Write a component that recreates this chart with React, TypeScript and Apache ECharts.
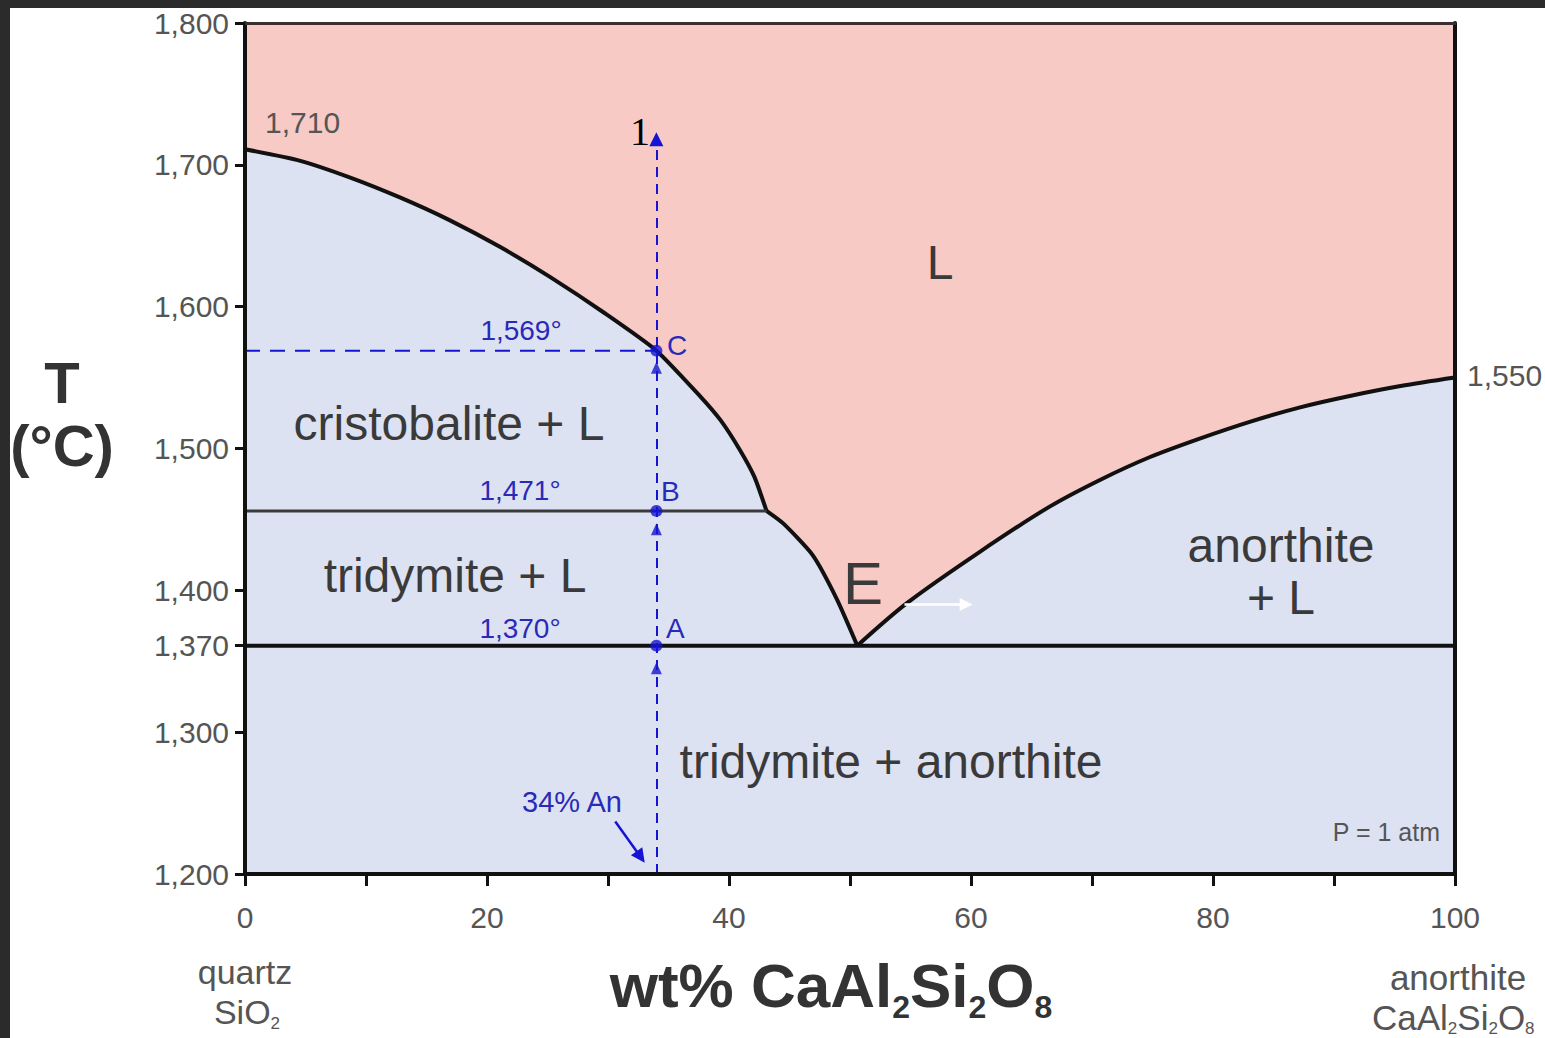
import React, { useEffect, useRef } from "react";
import * as echarts from "echarts";

const FONT = '"Liberation Sans", Arial, Helvetica, sans-serif';
const PINK = "#f7cac5";
const LAVENDER = "#dde2f3";
const BLUE = "#1414d2";
const BLUE_TEXT = "#2a2ab8";
const GRAY_TEXT = "#555555";
const DARK_TEXT = "#3a3a3a";

// axes
const xMin = 0;
const xMax = 100;
const yMin = 1200;
const yMax = 1800;
const yTickValues = [1200, 1300, 1361, 1400, 1500, 1600, 1700, 1800];
const yTickLabels = ["1,200", "1,300", "1,370", "1,400", "1,500", "1,600", "1,700", "1,800"];

// liquidus branches (wt% An, T °C)
const cristobaliteLiquidus = [
  [0, 1711], [4.5, 1703], [8.7, 1691], [12.8, 1677], [16.9, 1661], [21.1, 1642],
  [25.2, 1621], [29.8, 1595], [34, 1569], [37.6, 1537], [39.3, 1520], [40.9, 1499],
  [42.1, 1480], [43.1, 1456],
];
const tridymiteLiquidus = [
  [43.1, 1456], [44.5, 1447], [46.9, 1425], [48.9, 1394], [50.6, 1361],
];
const anorthiteLiquidus = [
  [50.6, 1361], [54.7, 1391], [60.7, 1427], [66.5, 1459], [70.7, 1478], [74.8, 1494],
  [78.9, 1507], [83.1, 1519], [87.2, 1529], [91.3, 1537], [95.5, 1544], [100, 1550],
];

// isotherms
const inversionLine = [[0, 1456], [43.1, 1456]];
const eutecticLine = [[0, 1361], [100, 1361]];

// cooling path of a 34% An melt
const pathPoints = [[34, 1569], [34, 1456], [34, 1361]]; // C, B, A
const pathArrows = [[34, 1557], [34, 1443], [34, 1345]];
const pathLine = [[34, 1200], [34, 1718]];
const cLevelLine = [[0, 1569], [34, 1569]];
const anPointer = [[30.6, 1237], [32.7, 1212]];
const whiteArrow = [[54.5, 1390], [59.6, 1390]];

const liquidusAll = [
  ...cristobaliteLiquidus,
  ...tridymiteLiquidus.slice(1),
  ...anorthiteLiquidus.slice(1),
];

// page coords -> chart coords (chart div sits at 10, 8)
const P = (x: number, y: number) => ({ x: x - 10, y: y - 8 });

function txt(
  text: string,
  px: number,
  py: number,
  size: number,
  fill: string,
  align: string = "center",
  extra: any = {}
) {
  const p = P(px, py);
  return {
    type: "text",
    x: p.x,
    y: p.y,
    z: 50,
    style: {
      text,
      fill,
      fontSize: size,
      fontFamily: FONT,
      align,
      verticalAlign: "middle",
      ...extra,
    },
  };
}

export default function App() {
  const ref = useRef<HTMLDivElement>(null);

  useEffect(() => {
    if (!ref.current) return;
    const chart = echarts.init(ref.current, null, { renderer: "svg" });

    const subRich = (main: number, sub: number, color: string, bold: boolean, subH: number) => ({
      m: {
        fontSize: main,
        fontFamily: FONT,
        fontWeight: bold ? "bold" : "normal",
        fill: color,
        lineHeight: main,
        verticalAlign: "bottom",
      },
      s: {
        fontSize: sub,
        fontFamily: FONT,
        fontWeight: bold ? "bold" : "normal",
        fill: color,
        height: subH,
        lineHeight: subH,
        verticalAlign: "bottom",
      },
    });

    const option: any = {
      animation: false,
      backgroundColor: "#ffffff",
      grid: {
        left: 235,
        top: 10,
        width: 1210,
        height: 856,
        show: true,
        backgroundColor: LAVENDER,
        borderWidth: 0,
      },
      xAxis: [
        {
          type: "value",
          min: xMin,
          max: xMax,
          interval: 10,
          position: "bottom",
          z: 10,
          axisLine: { show: true, onZero: false, lineStyle: { color: "#111", width: 4 } },
          axisTick: { show: true, length: 12, lineStyle: { color: "#111", width: 3 } },
          axisLabel: {
            color: GRAY_TEXT,
            fontSize: 30,
            fontFamily: FONT,
            margin: 28,
            formatter: (v: number) => (v % 20 === 0 ? String(v) : ""),
          },
          splitLine: { show: false },
        },
        {
          type: "value",
          min: xMin,
          max: xMax,
          position: "top",
          z: 10,
          axisLine: { show: true, onZero: false, lineStyle: { color: "#3b2e2e", width: 3 } },
          axisTick: { show: false },
          axisLabel: { show: false },
          splitLine: { show: false },
        },
      ],
      yAxis: [
        {
          type: "value",
          min: yMin,
          max: yMax,
          position: "left",
          z: 10,
          axisLine: { show: true, onZero: false, lineStyle: { color: "#111", width: 4 } },
          axisTick: {
            show: true,
            length: 10,
            customValues: yTickValues,
            lineStyle: { color: "#111", width: 3 },
          },
          axisLabel: {
            customValues: yTickValues,
            color: GRAY_TEXT,
            fontSize: 30,
            fontFamily: FONT,
            margin: 16,
            formatter: (v: number) => {
              const i = yTickValues.indexOf(v);
              return i >= 0 ? yTickLabels[i] : "";
            },
          },
          splitLine: { show: false },
        },
        {
          type: "value",
          min: yMin,
          max: yMax,
          position: "right",
          z: 10,
          axisLine: { show: true, onZero: false, lineStyle: { color: "#111", width: 4 } },
          axisTick: { show: false },
          axisLabel: { show: false },
          splitLine: { show: false },
        },
      ],
      series: [
        {
          name: "L field",
          type: "line",
          data: liquidusAll,
          symbol: "none",
          lineStyle: { width: 0 },
          areaStyle: { color: PINK, opacity: 1, origin: "end" },
          z: 1,
        },
        {
          name: "cristobalite liquidus",
          type: "line",
          data: cristobaliteLiquidus,
          symbol: "none",
          smooth: 0.2,
          lineStyle: { color: "#111", width: 4 },
          z: 3,
        },
        {
          name: "tridymite liquidus",
          type: "line",
          data: tridymiteLiquidus,
          symbol: "none",
          smooth: 0.2,
          lineStyle: { color: "#111", width: 4 },
          z: 3,
        },
        {
          name: "anorthite liquidus",
          type: "line",
          data: anorthiteLiquidus,
          symbol: "none",
          smooth: 0.3,
          lineStyle: { color: "#111", width: 4 },
          z: 3,
        },
        {
          name: "inversion",
          type: "line",
          data: inversionLine,
          symbol: "none",
          lineStyle: { color: "#3a3a3a", width: 3 },
          z: 3,
        },
        {
          name: "eutectic",
          type: "line",
          data: eutecticLine,
          symbol: "none",
          lineStyle: { color: "#111", width: 4 },
          z: 3,
        },
        {
          name: "C level",
          type: "line",
          data: cLevelLine,
          symbol: "none",
          lineStyle: { color: BLUE, width: 2, type: [15, 10] },
          z: 4,
        },
        {
          name: "path",
          type: "lines",
          coordinateSystem: "cartesian2d",
          data: [{ coords: pathLine }],
          symbol: ["none", "triangle"],
          symbolSize: [12, 14],
          lineStyle: { color: BLUE, width: 2, type: [10, 7], opacity: 1 },
          z: 5,
        },
        {
          name: "path arrows",
          type: "scatter",
          data: pathArrows,
          symbol: "triangle",
          symbolSize: [11, 12],
          itemStyle: { color: BLUE },
          z: 6,
        },
        {
          name: "path points",
          type: "scatter",
          data: pathPoints,
          symbol: "circle",
          symbolSize: 12,
          itemStyle: { color: BLUE },
          z: 6,
        },
        {
          name: "34% pointer",
          type: "lines",
          coordinateSystem: "cartesian2d",
          data: [{ coords: anPointer }],
          symbol: ["none", "triangle"],
          symbolSize: [12, 14],
          lineStyle: { color: BLUE, width: 2.5, opacity: 1 },
          z: 6,
        },
        {
          name: "white arrow",
          type: "lines",
          coordinateSystem: "cartesian2d",
          data: [{ coords: whiteArrow }],
          symbol: ["none", "triangle"],
          symbolSize: [10, 13],
          lineStyle: { color: "#ffffff", width: 2.5, opacity: 1 },
          itemStyle: { color: "#ffffff" },
          z: 6,
        },
      ],
      graphic: [
        txt("1,710", 265, 122, 30, GRAY_TEXT, "left"),
        txt("1,550", 1467, 375, 30, GRAY_TEXT, "left"),
        txt("L", 940, 262, 48, DARK_TEXT),
        txt("cristobalite + L", 449, 423, 48, DARK_TEXT),
        txt("tridymite + L", 455, 575, 48, DARK_TEXT),
        txt("anorthite\n+ L", 1281, 571, 48, DARK_TEXT, "center", { lineHeight: 52 }),
        txt("tridymite + anorthite", 891, 761, 48, DARK_TEXT),
        txt("E", 863, 583, 60, DARK_TEXT),
        txt("P = 1 atm", 1440, 832, 25, GRAY_TEXT, "right"),
        txt("1,569°", 521, 330, 28, BLUE_TEXT),
        txt("1,471°", 520, 490, 28, BLUE_TEXT),
        txt("1,370°", 520, 628, 28, BLUE_TEXT),
        txt("C", 667, 345, 28, BLUE_TEXT, "left"),
        txt("B", 661, 491, 28, BLUE_TEXT, "left"),
        txt("A", 666, 628, 28, BLUE_TEXT, "left"),
        txt("34% An", 572, 802, 29, BLUE_TEXT),
        {
          type: "text",
          ...P(640, 131),
          z: 50,
          style: {
            text: "1",
            fill: "#000",
            fontSize: 40,
            fontFamily: '"Liberation Serif", "Times New Roman", serif',
            align: "center",
            verticalAlign: "middle",
          },
        },
        txt("T", 62, 382, 58, "#333", "center", { fontWeight: "bold" }),
        txt("(°C)", 62, 445, 58, "#333", "center", { fontWeight: "bold" }),
        txt("quartz", 245, 972, 34, GRAY_TEXT),
        {
          type: "text",
          ...P(247, 1012),
          z: 50,
          style: {
            text: "{m|SiO}{s|2}",
            align: "center",
            verticalAlign: "middle",
            rich: subRich(34, 17, GRAY_TEXT, false, 12),
          },
        },
        txt("anorthite", 1458, 977, 35, GRAY_TEXT),
        {
          type: "text",
          ...P(1372, 1017),
          z: 50,
          style: {
            text: "{m|CaAl}{s|2}{m|Si}{s|2}{m|O}{s|8}",
            align: "left",
            verticalAlign: "middle",
            rich: subRich(35, 17, GRAY_TEXT, false, 12),
          },
        },
        {
          type: "text",
          ...P(831, 985),
          z: 50,
          style: {
            text: "{m|wt% CaAl}{s|2}{m|Si}{s|2}{m|O}{s|8}",
            align: "center",
            verticalAlign: "middle",
            rich: subRich(62, 32, "#333", true, 18),
          },
        },
      ],
    };

    chart.setOption(option);
    return () => chart.dispose();
  }, []);

  return (
    <div
      style={{
        position: "fixed",
        left: 0,
        top: 0,
        width: 1545,
        height: 1038,
        background: "#2b2b2b",
        overflow: "hidden",
      }}
    >
      <div
        ref={ref}
        style={{
          position: "absolute",
          left: 10,
          top: 8,
          width: 1535,
          height: 1030,
          background: "#ffffff",
        }}
      />
    </div>
  );
}
